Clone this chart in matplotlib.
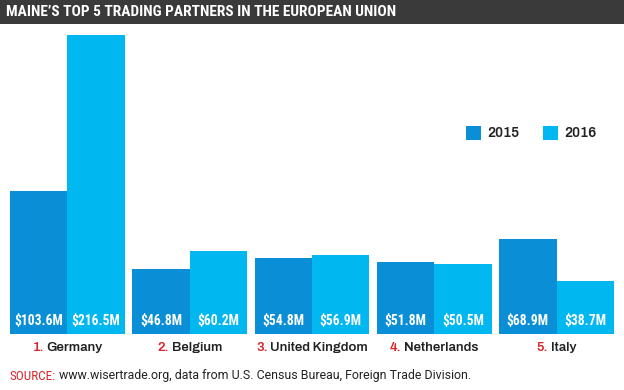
import matplotlib
matplotlib.use("Agg")
import matplotlib.pyplot as plt
import numpy as np
from matplotlib.patches import Rectangle

countries = ["Germany", "Belgium", "United Kingdom", "Netherlands", "Italy"]
ranks = ["1.", "2.", "3.", "4.", "5."]
v2015 = [103.6, 46.8, 54.8, 51.8, 68.9]
v2016 = [216.5, 60.2, 56.9, 50.5, 38.7]
years = ["2015", "2016"]

C15 = "#0a8fd6"
C16 = "#00b7ef"
RED = "#d7262b"
DARK = "#222222"
LBL = ["Archivo", "Roboto", "DejaVu Sans"]
VAL = ["Roboto Condensed", "DejaVu Sans"]
TTL = ["Roboto Condensed", "DejaVu Sans"]
SRC = ["Roboto", "DejaVu Sans"]

W, H = 624, 390
fig = plt.figure(figsize=(W / 100, H / 100), dpi=100)
fig.patch.set_facecolor("white")

def fx(px):
    return px / W

def fy(py):
    return 1 - py / H

# title bar
fig.patches.append(Rectangle((0, fy(24)), 1, 24 / H, transform=fig.transFigure,
                             facecolor="#3a3a3a", edgecolor="none", zorder=0))
fig.text(fx(6), fy(12.5), "MAINE\u2019S TOP 5 TRADING PARTNERS IN THE EUROPEAN UNION",
         color="white", fontsize=11.1, fontweight="bold", family=TTL,
         va="center", ha="left")

ax = fig.add_axes([fx(10), fy(334), fx(604), (334 - 35) / H])
x = np.arange(len(countries))
bw = 0.47
ax.bar(x - bw / 2, v2015, width=bw, color=C15, label=years[0])
ax.bar(x + bw / 2, v2016, width=bw, color=C16, label=years[1])
ax.set_xlim(-0.47, len(countries) - 1 + 0.47)
ax.set_ylim(0, max(v2016))
ax.axis("off")

for i in range(len(countries)):
    for off, v in ((-bw / 2, v2015[i]), (bw / 2, v2016[i])):
        ax.annotate(f"${v}M", (x[i] + off, 0), xytext=(0, 9.5), textcoords="offset points",
                    ha="center", va="center", color="white", fontsize=9.8,
                    fontweight="bold", family=VAL)

fig.canvas.draw()
r = fig.canvas.get_renderer()
inv = ax.transData.inverted()
for i in range(len(countries)):
    full = f"{ranks[i]} {countries[i]}"
    t = ax.annotate(full, (x[i], 0), xytext=(0, -9.5), textcoords="offset points",
                    ha="center", va="center", fontsize=9.5, fontweight="bold",
                    color=DARK, family=LBL)
    bb = t.get_window_extent(r)
    t.remove()
    left = inv.transform((bb.x0, 0))[0]
    right = inv.transform((bb.x1, 0))[0]
    ax.annotate(ranks[i], (left, 0), xytext=(0, -9.5), textcoords="offset points",
                ha="left", va="center", fontsize=9.5, fontweight="bold", color=RED,
                family=LBL)
    ax.annotate(countries[i], (right, 0), xytext=(0, -9.5), textcoords="offset points",
                ha="right", va="center", fontsize=9.5, fontweight="bold", color=DARK,
                family=LBL)

leg = ax.legend(loc="center left", bbox_to_anchor=(fx(453), fy(133)),
                bbox_transform=fig.transFigure, ncol=2, frameon=False,
                handlelength=1.1, handleheight=1.2, handletextpad=0.45,
                columnspacing=1.7, prop={"weight": "bold", "size": 10, "family": LBL})
for t in leg.get_texts():
    t.set_color(DARK)

s = fig.text(fx(10), fy(376), "SOURCE:", color=RED, fontsize=9.5, family=TTL,
             va="center", ha="left")
fig.canvas.draw()
bb = s.get_window_extent(fig.canvas.get_renderer())
fig.text(bb.x1 / W + fx(3), fy(376),
         "www.wisertrade.org, data from U.S. Census Bureau, Foreign Trade Division.",
         color=DARK, fontsize=8.9, va="center", ha="left", family=SRC)

fig.savefig("out.png", dpi=100)
